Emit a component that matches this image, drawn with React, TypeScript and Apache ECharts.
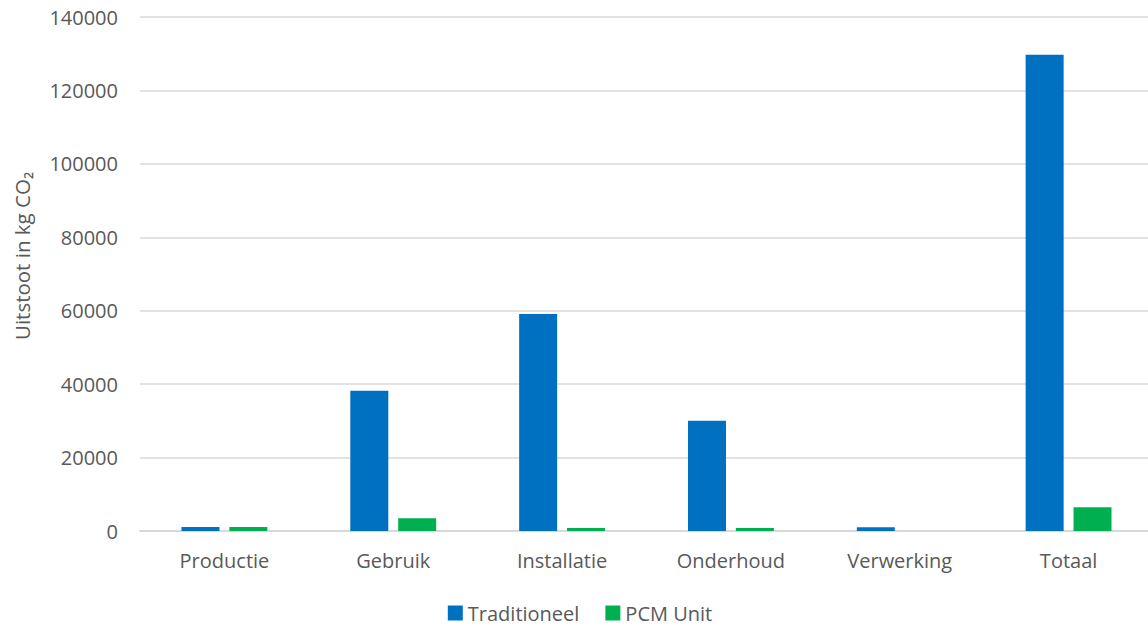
import React, { useEffect, useRef } from "react";
import * as echarts from "echarts";

const categories = ["Productie", "Gebruik", "Installatie", "Onderhoud", "Verwerking", "Totaal"];
const traditioneel = [1100, 38200, 59100, 30000, 1000, 129700];
const pcmUnit = [1100, 3500, 800, 800, 0, 6500];
const yTicks = { min: 0, max: 140000, interval: 20000 };

export default function App() {
  const ref = useRef<HTMLDivElement>(null);
  useEffect(() => {
    if (!ref.current) return;
    const chart = echarts.init(ref.current, undefined, { renderer: "svg" });
    const font = "'Open Sans', 'Liberation Sans', sans-serif";
    chart.setOption({
      animation: false,
      textStyle: { fontFamily: font },
      grid: { left: 140, top: 17, width: 1013, height: 514, containLabel: false },
      legend: {
        bottom: 2,
        left: "center",
        itemWidth: 15,
        itemHeight: 15,
        itemGap: 26,
        icon: "rect",
        textStyle: { color: "#595959", fontSize: 20, fontFamily: font },
        data: ["Traditioneel", "PCM Unit"],
      },
      graphic: [
        {
          type: "text",
          x: 22,
          y: 256,
          rotation: Math.PI / 2,
          style: {
            text: "Uitstoot in kg CO₂",
            fill: "#595959",
            fontSize: 20.5,
            fontFamily: font,
            align: "center",
            verticalAlign: "middle",
          },
        },
      ],
      xAxis: {
        type: "category",
        data: categories,
        axisLine: { lineStyle: { color: "#d9d9d9", width: 2 } },
        axisTick: { show: false },
        axisLabel: { color: "#595959", fontSize: 20, margin: 19, fontFamily: font },
      },
      yAxis: {
        type: "value",
        min: yTicks.min,
        max: yTicks.max,
        interval: yTicks.interval,
        axisLine: { show: false },
        axisTick: { show: false },
        splitLine: { lineStyle: { color: "#d9d9d9", width: 1.5 } },
        axisLabel: {
          color: "#595959",
          fontSize: 20,
          margin: 22,
          fontFamily: font,
          formatter: (v: number) => String(v),
        },
      },
      series: [
        {
          name: "Traditioneel",
          type: "bar",
          data: traditioneel,
          barWidth: 38,
          barGap: "26%",
          itemStyle: { color: "#0070C0" },
        },
        {
          name: "PCM Unit",
          type: "bar",
          data: pcmUnit,
          barWidth: 38,
          itemStyle: { color: "#00B050" },
        },
      ],
    });
    return () => chart.dispose();
  }, []);
  return (
    <div
      style={{
        position: "absolute",
        left: 0,
        top: 0,
        width: 1148,
        height: 630,
        overflow: "hidden",
        background: "#fff",
      }}
    >
      <div ref={ref} style={{ width: 1160, height: 630 }} />
    </div>
  );
}
